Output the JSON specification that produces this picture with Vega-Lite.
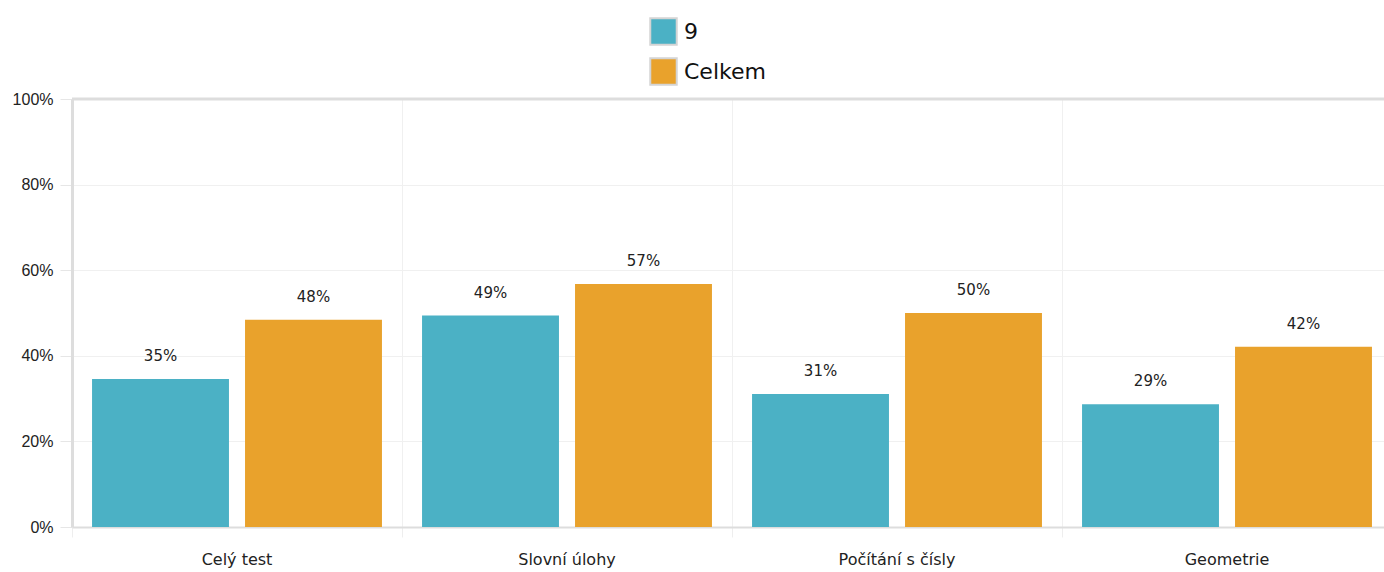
{
  "$schema": "https://vega.github.io/schema/vega-lite/v6.json",
  "width": 1320,
  "height": 428,
  "autosize": {"type": "none"},
  "padding": {"left": 72, "top": 99, "right": 0, "bottom": 45},
  "background": "white",
  "config": {"view": {"stroke": null}},
  "data": {
    "values": [
      {"kategorie": "Celý test", "serie": "9", "hodnota": 0.346},
      {"kategorie": "Celý test", "serie": "Celkem", "hodnota": 0.484},
      {"kategorie": "Slovní úlohy", "serie": "9", "hodnota": 0.494},
      {"kategorie": "Slovní úlohy", "serie": "Celkem", "hodnota": 0.568},
      {"kategorie": "Počítání s čísly", "serie": "9", "hodnota": 0.311},
      {"kategorie": "Počítání s čísly", "serie": "Celkem", "hodnota": 0.5},
      {"kategorie": "Geometrie", "serie": "9", "hodnota": 0.287},
      {"kategorie": "Geometrie", "serie": "Celkem", "hodnota": 0.421}
    ]
  },
  "layer": [
    {
      "mark": {"type": "bar"},
      "encoding": {
        "x": {
          "field": "kategorie", "type": "nominal",
          "sort": ["Celý test", "Slovní úlohy", "Počítání s čísly", "Geometrie"],
          "scale": {"paddingInner": 0, "paddingOuter": 0},
          "axis": {
            "title": null, "labelAngle": 0, "bandPosition": 0,
            "grid": true, "gridColor": "#f0f0f0", "gridWidth": 1,
            "ticks": true, "tickSize": 10, "tickColor": "#eeeeee", "tickWidth": 1,
            "domainColor": "#dddddd", "domainWidth": 2,
            "labelFont": "DejaVu Sans", "labelFontSize": 16, "labelColor": "#222222",
            "labelPadding": 14
          }
        },
        "xOffset": {
          "field": "serie", "type": "nominal", "sort": ["9", "Celkem"],
          "scale": {"paddingInner": 0.105, "paddingOuter": 0.131}
        },
        "y": {
          "field": "hodnota", "type": "quantitative",
          "scale": {"domain": [0, 1]},
          "axis": {
            "title": null, "format": ".0%", "values": [0, 0.2, 0.4, 0.6, 0.8, 1],
            "grid": true, "gridColor": "#f0f0f0", "gridWidth": 1,
            "tickSize": 12, "tickColor": "#e6e6e6", "tickWidth": 1,
            "domainColor": "#dddddd", "domainWidth": 3,
            "labelFont": "Liberation Sans", "labelFontSize": 16, "labelColor": "#222222",
            "labelPadding": 7
          }
        },
        "color": {
          "field": "serie", "type": "nominal",
          "scale": {"domain": ["9", "Celkem"], "range": ["#4bb1c5", "#e9a22c"]},
          "legend": {
            "title": null, "orient": "none", "legendX": 577, "legendY": -82,
            "symbolType": "square", "symbolSize": 700,
            "symbolStrokeColor": "#d4d4d4", "symbolStrokeWidth": 2,
            "labelFont": "DejaVu Sans", "labelFontSize": 22, "labelColor": "#111111",
            "labelOffset": 6, "rowPadding": 5
          }
        }
      }
    },
    {
      "mark": {"type": "text", "baseline": "bottom", "dy": -15, "font": "DejaVu Sans", "fontSize": 15, "color": "#222222"},
      "encoding": {
        "x": {"field": "kategorie", "type": "nominal", "sort": ["Celý test", "Slovní úlohy", "Počítání s čísly", "Geometrie"]},
        "xOffset": {"field": "serie", "type": "nominal", "sort": ["9", "Celkem"]},
        "y": {"field": "hodnota", "type": "quantitative"},
        "text": {"field": "hodnota", "type": "quantitative", "format": ".0%"}
      }
    },
    {
      "data": {"values": [{"top": 1}]},
      "mark": {"type": "rule", "color": "#dddddd", "strokeWidth": 3},
      "encoding": {"y": {"field": "top", "type": "quantitative"}}
    }
  ]
}
